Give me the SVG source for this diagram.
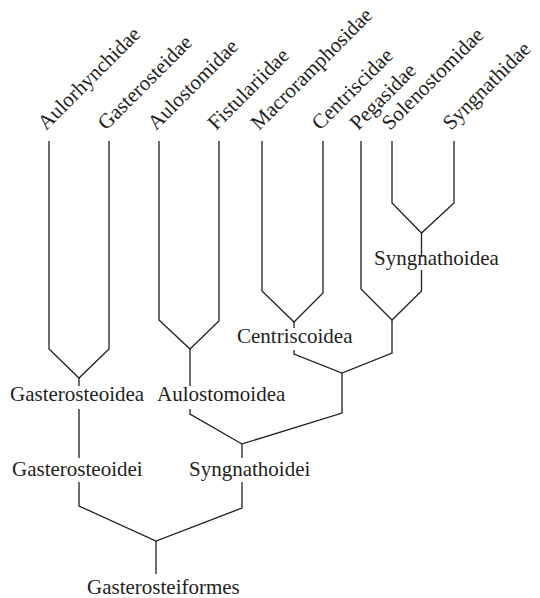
<svg xmlns="http://www.w3.org/2000/svg" width="540" height="598" viewBox="0 0 540 598">
<style>
.e{fill:none;stroke:#231f20;stroke-width:1.3;stroke-linejoin:miter}
text{font-family:"Liberation Serif","Times New Roman",serif;font-size:21px;fill:#231f20}
</style>
<rect width="540" height="598" fill="#fff"/>
<g id="connectors">
<path class="e" d="M49,141V349L79,378L109,349V141"/>
<path class="e" d="M79,378V386M79,409V458M79,482V506L156,541L242,508V482M242,458V444L342,413V373"/>
<path class="e" d="M159,141V320L190,349L219,321V141"/>
<path class="e" d="M190,349V386M190,409V414L242,444"/>
<path class="e" d="M262,141V291L294,322L323,293V141"/>
<path class="e" d="M294,322V328M294,350V354L342,373L392,353V320"/>
<path class="e" d="M361,141V289L392,320L421.5,291V270"/>
<path class="e" d="M392,141V203L421.5,233L454,203V141"/>
<path class="e" d="M421.5,233V257"/>
<path class="e" d="M156,541V574"/>
</g>
<g id="leaf-Aulorhynchidae"><text transform="translate(46,131) rotate(-45)">Aulorhynchidae</text></g>
<g id="leaf-Gasterosteidae"><text transform="translate(106,131) rotate(-45)">Gasterosteidae</text></g>
<g id="leaf-Aulostomidae"><text transform="translate(156,131) rotate(-45)">Aulostomidae</text></g>
<g id="leaf-Fistulariidae"><text transform="translate(216,131) rotate(-45)">Fistulariidae</text></g>
<g id="leaf-Macroramphosidae"><text transform="translate(259,131) rotate(-45)">Macroramphosidae</text></g>
<g id="leaf-Centriscidae"><text transform="translate(320,131) rotate(-45)">Centriscidae</text></g>
<g id="leaf-Pegasidae"><text transform="translate(358,131) rotate(-45)">Pegasidae</text></g>
<g id="leaf-Solenostomidae"><text transform="translate(390,131) rotate(-45)">Solenostomidae</text></g>
<g id="leaf-Syngnathidae"><text transform="translate(451,131) rotate(-45)">Syngnathidae</text></g>
<g id="node-Gasterosteoidea"><text x="10" y="401">Gasterosteoidea</text></g>
<g id="node-Aulostomoidea"><text x="157" y="401">Aulostomoidea</text></g>
<g id="node-Centriscoidea"><text x="237" y="343">Centriscoidea</text></g>
<g id="node-Syngnathoidea"><text x="374" y="265">Syngnathoidea</text></g>
<g id="node-Gasterosteoidei"><text x="12" y="476">Gasterosteoidei</text></g>
<g id="node-Syngnathoidei"><text x="189" y="476">Syngnathoidei</text></g>
<g id="node-Gasterosteiformes"><text x="87" y="594">Gasterosteiformes</text></g>
</svg>
